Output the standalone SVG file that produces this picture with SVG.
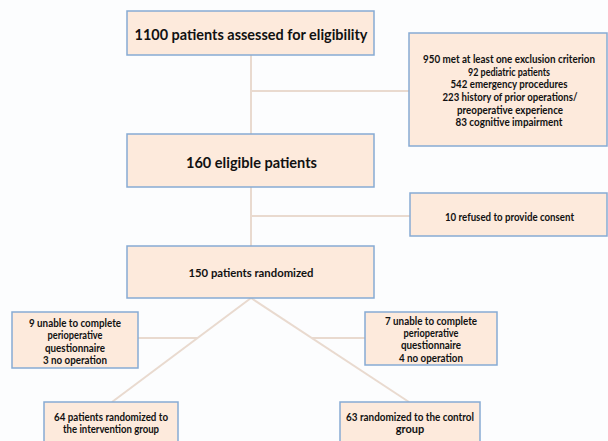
<svg xmlns="http://www.w3.org/2000/svg" width="608" height="441" viewBox="0 0 608 441">
<style>
.box{fill:#fdeadc;stroke:#86abd4;stroke-width:1.5}
.ln{stroke:#e9dacf;stroke-width:2;fill:none}
text{font-family:Lato,"Liberation Sans",sans-serif;font-weight:bold;fill:#111;text-anchor:middle}
.t15{font-size:15.5px}.t14{font-size:14.5px}.t11{font-size:12px}.t10{font-size:11px}
</style>
<rect width="608" height="441" fill="#fcfdfe"/>
<g id="connectors">
<line class="ln" x1="251" y1="55" x2="251" y2="135"/>
<line class="ln" x1="251" y1="91" x2="409" y2="91"/>
<line class="ln" x1="251" y1="187" x2="251" y2="246"/>
<line class="ln" x1="251" y1="216" x2="410" y2="216"/>
<line class="ln" x1="251" y1="298" x2="112" y2="402"/>
<line class="ln" x1="251" y1="298" x2="409" y2="402"/>
<line class="ln" x1="138" y1="338" x2="197" y2="338"/>
<line class="ln" x1="312" y1="338" x2="365" y2="338"/>
</g>
<g id="assessed">
<rect class="box" x="127" y="11" width="247" height="44"/>
<text class="t15" x="251" y="40" textLength="233" lengthAdjust="spacingAndGlyphs">1100 patients assessed for eligibility</text>
</g>
<g id="excluded">
<rect class="box" x="409" y="33" width="198" height="113"/>
<text class="t10" x="509" y="63" textLength="172" lengthAdjust="spacingAndGlyphs">950 met at least one exclusion criterion</text>
<text class="t10" x="509" y="76" textLength="82" lengthAdjust="spacingAndGlyphs">92 pediatric patients</text>
<text class="t10" x="509" y="88" textLength="117" lengthAdjust="spacingAndGlyphs">542 emergency procedures</text>
<text class="t10" x="510" y="100.5" textLength="135" lengthAdjust="spacingAndGlyphs">223 history of prior operations/</text>
<text class="t10" x="510" y="113.5" textLength="106" lengthAdjust="spacingAndGlyphs">preoperative experience</text>
<text class="t10" x="509" y="126" textLength="107" lengthAdjust="spacingAndGlyphs">83 cognitive impairment</text>
</g>
<g id="eligible">
<rect class="box" x="127" y="134" width="247" height="53"/>
<text class="t14" x="251.5" y="167.5" textLength="131" lengthAdjust="spacingAndGlyphs">160 eligible patients</text>
</g>
<g id="refused">
<rect class="box" x="410" y="193" width="197" height="43"/>
<text class="t10" x="509.5" y="220.5" textLength="129" lengthAdjust="spacingAndGlyphs">10 refused to provide consent</text>
</g>
<g id="randomized">
<rect class="box" x="127" y="246" width="247" height="52"/>
<text class="t11" x="251" y="276.5" textLength="125" lengthAdjust="spacingAndGlyphs">150 patients randomized</text>
</g>
<g id="lost-left">
<rect class="box" x="12" y="312" width="126" height="56"/>
<text class="t10" x="75" y="327" textLength="92" lengthAdjust="spacingAndGlyphs">9 unable to complete</text>
<text class="t10" x="75" y="339" textLength="55" lengthAdjust="spacingAndGlyphs">perioperative</text>
<text class="t10" x="75" y="351.5" textLength="60" lengthAdjust="spacingAndGlyphs">questionnaire</text>
<text class="t10" x="75" y="364" textLength="64" lengthAdjust="spacingAndGlyphs">3 no operation</text>
</g>
<g id="lost-right">
<rect class="box" x="365" y="312" width="132" height="53"/>
<text class="t10" x="431" y="325" textLength="92" lengthAdjust="spacingAndGlyphs">7 unable to complete</text>
<text class="t10" x="431" y="337" textLength="55" lengthAdjust="spacingAndGlyphs">perioperative</text>
<text class="t10" x="431" y="349" textLength="60" lengthAdjust="spacingAndGlyphs">questionnaire</text>
<text class="t10" x="431" y="361.5" textLength="64" lengthAdjust="spacingAndGlyphs">4 no operation</text>
</g>
<g id="intervention">
<rect class="box" x="44" y="402" width="134" height="42"/>
<text class="t10" x="111" y="421" textLength="114" lengthAdjust="spacingAndGlyphs">64 patients randomized to</text>
<text class="t10" x="111" y="432.5" textLength="96" lengthAdjust="spacingAndGlyphs">the intervention group</text>
</g>
<g id="control">
<rect class="box" x="340" y="402" width="140" height="42"/>
<text class="t10" x="410" y="421" textLength="128" lengthAdjust="spacingAndGlyphs">63 randomized to the control</text>
<text class="t10" x="410" y="432.5">group</text>
</g>
</svg>
